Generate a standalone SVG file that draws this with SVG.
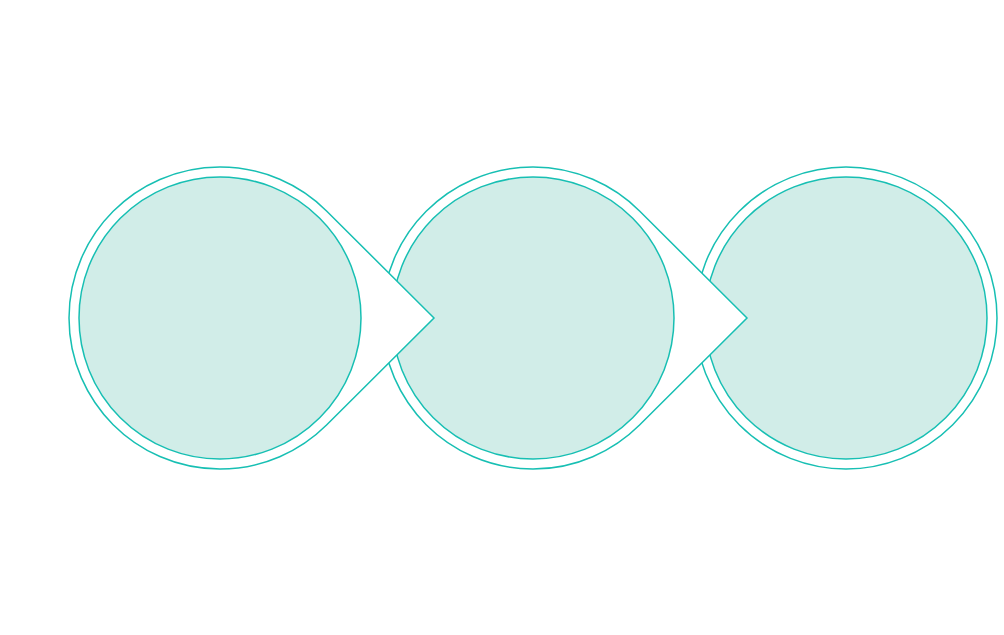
<svg xmlns="http://www.w3.org/2000/svg" width="1004" height="635" viewBox="0 0 1004 635">
<style>
.outer{fill:#ffffff;stroke:#17bfb3;stroke-width:1.5}
.inner{fill:#d1ede8;stroke:#17bfb3;stroke-width:1.5}
</style>
<rect width="1004" height="635" fill="#ffffff"/>
<g id="connectors"></g>
<g id="node3">
<circle class="outer" cx="846" cy="318" r="151"/>
<circle class="inner" cx="846" cy="318" r="141"/>
</g>
<g id="node2">
<path class="outer" d="M747 318 L639.56 211 A151 151 0 1 0 639.56 425 Z"/>
<circle class="inner" cx="533" cy="318" r="141"/>
</g>
<g id="node1">
<path class="outer" d="M434 318 L326.56 211 A151 151 0 1 0 326.56 425 Z"/>
<circle class="inner" cx="220" cy="318" r="141"/>
</g>
</svg>
